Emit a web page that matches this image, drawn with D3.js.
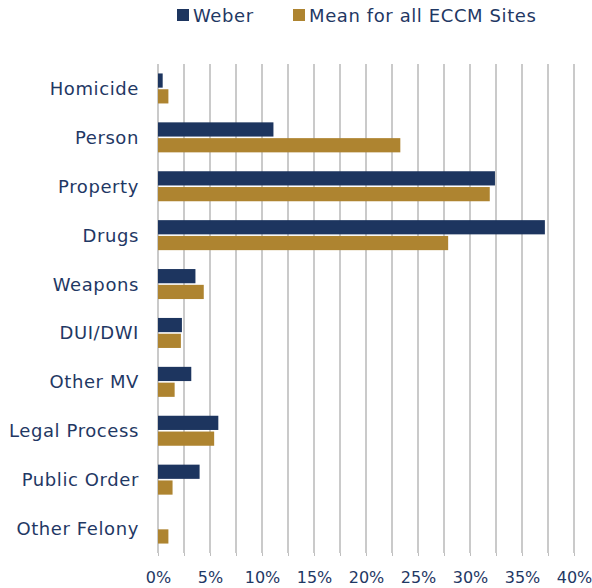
<!DOCTYPE html>
<html>
<head>
<meta charset="utf-8">
<script src="https://cdn.jsdelivr.net/npm/d3@7"></script>
<style>
  body { margin: 0; background: #fff; }
  text { font-family: "DejaVu Sans", sans-serif; fill: #1f3864; }
</style>
</head>
<body>
<div id="chart"></div>
<script>
// chart data
var categories = ["Homicide", "Person", "Property", "Drugs", "Weapons", "DUI/DWI",
                  "Other MV", "Legal Process", "Public Order", "Other Felony"];
var seriesNames = ["Weber", "Mean for all ECCM Sites"];
var weber = [0.45, 11.1, 32.4, 37.2, 3.6, 2.3, 3.2, 5.8, 4.0, 0];
var eccmMean = [1.0, 23.3, 31.9, 27.9, 4.4, 2.2, 1.6, 5.4, 1.4, 1.0];
var tickValues = [0, 5, 10, 15, 20, 25, 30, 35, 40];

function main() {
    var width = 592, height = 588;
    var colors = ["#1d355f", "#ae8430"];
    var svg = d3.select("#chart").append("svg")
                .attr("width", width).attr("height", height);

    var x = d3.scaleLinear().domain([0, 40]).range([158, 574]);
    var y = d3.scaleBand().domain(categories).range([64, 553]);
    var inner = d3.scaleBand().domain(seriesNames)
                  .range([y.bandwidth() / 2 - 15, y.bandwidth() / 2 + 15]).paddingInner(0.1);

    // gridlines every 2.5%
    var grid = d3.range(0, 40.01, 2.5);
    svg.append("g").selectAll("line").data(grid).enter().append("line")
        .attr("x1", function(d){ return x(d); }).attr("x2", function(d){ return x(d); })
        .attr("y1", 64).attr("y2", 553)
        .attr("stroke", "#b8b8b8").attr("stroke-width", 1.5);

    // bottom axis
    var axis = svg.append("g").attr("transform", "translate(0,553)")
        .call(d3.axisBottom(x).tickValues(grid).tickSize(3)
              .tickFormat(function(d){ return tickValues.indexOf(d) >= 0 ? d + "%" : ""; }));
    axis.select(".domain").remove();
    axis.selectAll(".tick line").attr("stroke", "#bfbfbf");
    axis.selectAll(".tick text").attr("font-size", 16).attr("dy", 0).attr("y", 30)
        .attr("font-family", "DejaVu Sans Condensed")
        .style("fill", "#1f3864");

    // bars
    var series = [weber, eccmMean];
    series.forEach(function(vals, s) {
        svg.append("g").selectAll("rect").data(vals).enter().append("rect")
            .attr("x", x(0))
            .attr("y", function(d, i){ return y(categories[i]) + inner(seriesNames[s]); })
            .attr("width", function(d){ return x(d) - x(0); })
            .attr("height", inner.bandwidth())
            .attr("fill", colors[s]);
    });

    // category labels
    svg.append("g").selectAll("text").data(categories).enter().append("text")
        .attr("x", 139)
        .attr("y", function(d){ return y(d) + y.bandwidth() / 2; })
        .attr("dy", "0.36em")
        .attr("text-anchor", "end")
        .attr("font-size", 18)
        .attr("letter-spacing", 0.6)
        .text(function(d){ return d; });

    // legend
    var legendX = [177, 293];
    var legend = svg.append("g").selectAll("g").data(seriesNames).enter().append("g")
        .attr("transform", function(d, i){ return "translate(" + legendX[i] + ",9)"; });
    legend.append("rect").attr("width", 12).attr("height", 12)
        .attr("fill", function(d, i){ return colors[i]; });
    legend.append("text").attr("x", 16).attr("y", 12.5)
        .attr("font-size", 18)
        .attr("letter-spacing", 0.6)
        .text(function(d){ return d; });
}
main();
</script>
</body>
</html>
